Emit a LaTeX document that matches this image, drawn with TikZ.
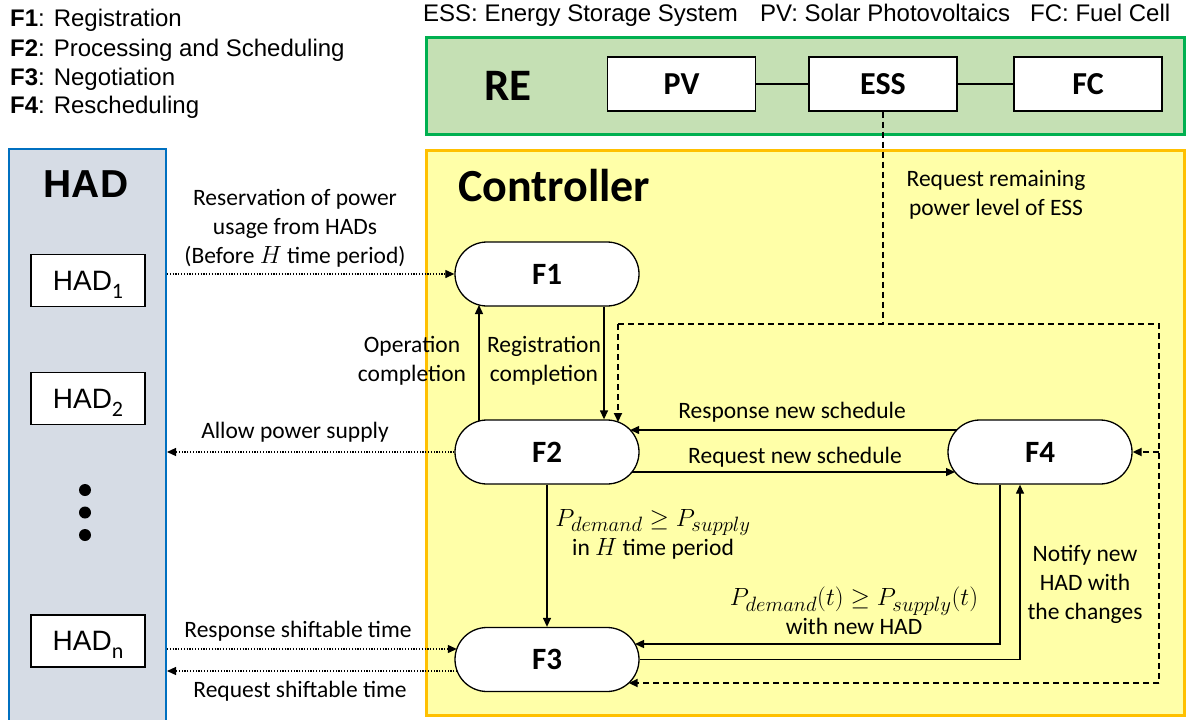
\documentclass[tikz,border=0pt]{standalone}
\usepackage{fontspec}
\setmainfont{Carlito}
\newfontfamily\arialfont{Liberation Sans}
\usetikzlibrary{arrows.meta,shapes.misc,calc}

\definecolor{hadfill}{HTML}{D6DCE5}
\definecolor{hadline}{HTML}{0070C0}
\definecolor{refill}{HTML}{C5E0B4}
\definecolor{reline}{HTML}{00B050}
\definecolor{ctrlfill}{HTML}{FFFFA8}
\definecolor{ctrlline}{HTML}{FFC000}

\newcommand{\hadsub}[1]{\raisebox{-8pt}{\rmfamily\fontsize{22}{22}\selectfont #1}}
% larger power subscripts
\newcommand{\psub}[1]{\mbox{\fontsize{20.74}{21}\selectfont$#1$}}

\begin{document}
\begin{tikzpicture}[x=1pt,y=-1pt,
  legend/.style={anchor=base west, inner sep=0pt, font=\arialfont\fontsize{24}{29}\selectfont},
  fnode/.style={rounded rectangle, draw, line width=1.3pt, fill=white,
    minimum width=184pt, minimum height=64pt, inner sep=0pt,
    font=\bfseries\fontsize{31}{36}\selectfont},
  rebox/.style={draw, line width=1.4pt, fill=white, minimum width=148pt,
    minimum height=54pt, inner sep=0pt, font=\bfseries\fontsize{32}{36}\selectfont},
  hadbox/.style={draw, line width=1.3pt, fill=white, minimum width=114pt,
    minimum height=52pt, inner sep=0pt, text depth=0pt,
    font=\arialfont\fontsize{28}{32}\selectfont},
  lbl/.style={align=center, inner sep=0pt, font=\fontsize{23.5}{29}\selectfont},
  arr/.style={-{Triangle[length=9pt,width=8pt]}, line width=1.3pt},
  dotarr/.style={-{Triangle[length=9pt,width=8pt]}, line width=1.2pt,
    dash pattern=on 1.2pt off 1.6pt},
  dashln/.style={line width=1.9pt, dash pattern=on 6pt off 4pt},
  dasharr/.style={dashln, -{Triangle[length=9pt,width=8pt]}}
]
\useasboundingbox (0,0) rectangle (1186,720);

% legends
\node[legend] (lgF1) at (10,27) {\textbf{F1}: Registration};
\node[legend] (lgF2) at (10,56) {\textbf{F2}: Processing and Scheduling};
\node[legend] (lgF3) at (10,85) {\textbf{F3}: Negotiation};
\node[legend] (lgF4) at (10,113) {\textbf{F4}: Rescheduling};
\node[legend] (lgESS) at (423,21) {ESS: Energy Storage System};
\node[legend] (lgPV) at (760,21) {PV: Solar Photovoltaics};
\node[legend] (lgFC) at (1030,21) {FC: Fuel Cell};

% panels
\node[draw=hadline, fill=hadfill, line width=2pt, minimum width=157pt,
  minimum height=600pt, anchor=north west, inner sep=0pt] (hadpanel) at (8,148) {};
\node[draw=ctrlline, fill=ctrlfill, line width=2.5pt, minimum width=758pt,
  minimum height=565pt, anchor=north west, inner sep=0pt] (ctrl) at (425,149) {};
\node[draw=reline, fill=refill, line width=2.5pt, minimum width=758pt,
  minimum height=97pt, anchor=north west, inner sep=0pt] (RE) at (425,36) {};

% titles
\node[anchor=base, inner sep=0pt, font=\arialfont\bfseries\fontsize{39}{44}\selectfont]
  (hadtitle) at (86,197) {HAD};
\node[anchor=base west, inner sep=0pt, font=\bfseries\fontsize{46}{50}\selectfont]
  (ctrltitle) at (458,201) {Controller};
\node[anchor=base west, inner sep=0pt, font=\bfseries\fontsize{45}{50}\selectfont]
  (retitle) at (484,100) {RE};

% renewable sources
\node[rebox] (PV) at (681.5,84) {PV};
\node[rebox] (ESS) at (883,84) {ESS};
\node[rebox] (FC) at (1088,84) {FC};
\draw[line width=1.3pt] (PV.east) -- (ESS.west);
\draw[line width=1.3pt] (ESS.east) -- (FC.west);

% household appliance devices
\node[hadbox] (had1) at (88,280.5) {HAD\hadsub{1}};
\node[hadbox] (had2) at (88,398.5) {HAD\hadsub{2}};
\node[hadbox] (hadn) at (88,641) {HAD\hadsub{n}};
\fill (85,490) circle[radius=6pt];
\fill (85,512.5) circle[radius=6pt];
\fill (85,535) circle[radius=6pt];

% controller functions
\node[fnode] (F1) at (547,274) {F1};
\node[fnode] (F2) at (547,452) {F2};
\node[fnode] (F3) at (547,659.5) {F3};
\node[fnode] (F4) at (1040,452) {F4};

% HAD <-> controller
\draw[dotarr] (hadpanel.east |- F1.west) -- (F1.west);
\draw[dotarr] (F2.west) -- (hadpanel.east |- F2.west);
\coordinate (f3in) at ($(F3.center)+(-90.2,-10.5)$);
\coordinate (f3out) at ($(F3.center)+(-89.9,11.5)$);
\draw[dotarr] (hadpanel.east |- f3in) -- (f3in);
\draw[dotarr] (f3out) -- (hadpanel.east |- f3out);

% F1 <-> F2
\draw[arr] ($(F1.south)+(57,0)$) -- ($(F2.north)+(57,0)$);
\draw[arr] ($(F2.center)+(-68,-31)$) -- ($(F1.center)+(-68,31)$);

% ESS status request
\coordinate (dTL) at (618,324);
\coordinate (dTR) at (1159,324);
\coordinate (dBR) at (1159,683);
\draw[dashln] (ESS.south) -- (ESS.south |- dTL);
\draw[dashln] (dTL) -- (dTR) -- (dBR);
\draw[dasharr] (dTL) -- ($(F2.center)+(71,-30)$);
\draw[dasharr] (dTR |- F4.east) -- (F4.east);
\draw[dasharr] (dBR) -- ($(F3.center)+(81.7,23.5)$);

% F2 <-> F4
\draw[arr] ($(F4.center)+(-83.2,-22)$) -- ($(F2.center)+(83.2,-22)$);
\draw[arr] ($(F2.center)+(85,20)$) -- ($(F4.center)+(-85,20)$);

% towards and from F3
\draw[arr] (F2.south) -- (F3.north);
\draw[arr] ($(F4.south)+(-40,0)$) |- ($(F3.center)+(88,-15.5)$);
\draw[arr] (F3.east) -| ($(F4.south)+(-20,0)$);

% connector labels
\node[lbl] (lReserv) at (295,228) {Reservation of power\\usage from HADs\\(Before $H$ time period)};
\node[lbl, anchor=base] (lAllow) at (295,438) {Allow power supply};
\node[lbl, anchor=base] (lResp) at (298,637) {Response shiftable time};
\node[lbl, anchor=base] (lReq) at (300,697) {Request shiftable time};
\node[lbl] (lOp) at (412,361) {Operation\\completion};
\node[lbl] (lReg) at (544,361) {Registration\\completion};
\node[lbl] (lESSreq) at (996,195) {Request remaining\\power level of ESS};
\node[lbl, anchor=base] (lRespSch) at (792,418) {Response new schedule};
\node[lbl, anchor=base] (lReqSch) at (795,463) {Request new schedule};
\node[lbl] (lCond1) at (653,534) {$P_{\psub{demand}}\geq P_{\psub{supply}}$\\in $H$ time period};
\node[lbl] (lCond2) at (854,611) {$P_{\psub{demand}}(t)\geq P_{\psub{supply}}(t)$\\with new HAD};
\node[lbl] (lNotify) at (1085,584) {Notify new\\HAD with\\the changes};
\end{tikzpicture}
\end{document}
